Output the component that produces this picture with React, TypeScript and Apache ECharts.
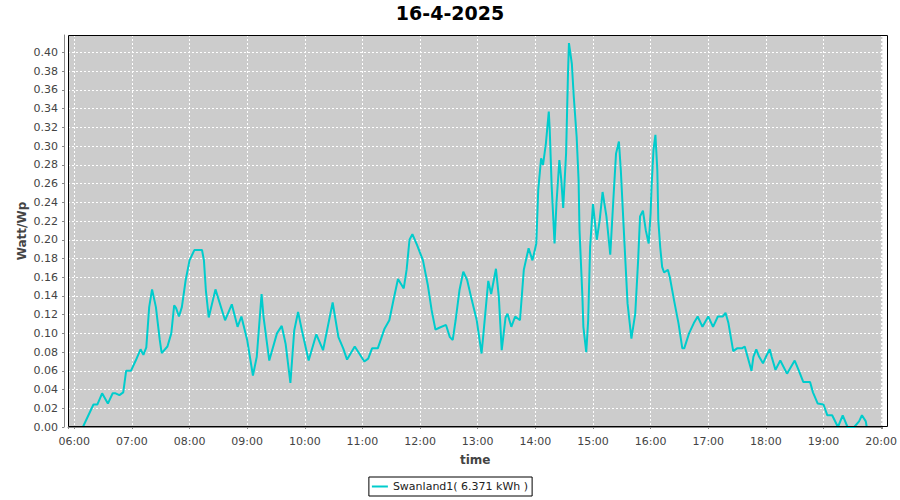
import React, { useEffect, useRef } from "react";
import * as echarts from "echarts";

const chartTitle = "16-4-2025";
const seriesName = "Swanland1( 6.371 kWh )";
const yAxisTitle = "Watt/Wp";
const xAxisTitle = "time";

const times = [
  "06:09", "06:20", "06:24", "06:29", "06:35", "06:40", "06:43", "06:47", "06:51", "06:54",
  "06:59", "07:04", "07:09", "07:12", "07:15", "07:18", "07:21", "07:25", "07:29", "07:31",
  "07:37", "07:41", "07:44", "07:46", "07:49", "07:52", "07:56", "08:00", "08:05", "08:13",
  "08:15", "08:17", "08:20", "08:27", "08:37", "08:44", "08:50", "08:54", "09:00", "09:06",
  "09:10", "09:15", "09:17", "09:23", "09:31", "09:36", "09:40", "09:45", "09:49", "09:53",
  "09:57", "10:04", "10:12", "10:19", "10:29", "10:35", "10:40", "10:44", "10:52", "11:02",
  "11:06", "11:10", "11:16", "11:23", "11:28", "11:32", "11:37", "11:43", "11:46", "11:49",
  "11:52", "11:57", "12:03", "12:08", "12:12", "12:16", "12:20", "12:27", "12:31", "12:34",
  "12:37", "12:41", "12:45", "12:49", "12:54", "12:59", "13:04", "13:06", "13:11", "13:14",
  "13:19", "13:22", "13:25", "13:29", "13:31", "13:35", "13:39", "13:44", "13:48", "13:53",
  "13:57", "14:01", "14:03", "14:06", "14:08", "14:11", "14:14", "14:15", "14:17", "14:20",
  "14:22", "14:25", "14:27", "14:29", "14:32", "14:34", "14:35", "14:38", "14:40", "14:43",
  "14:45", "14:46", "14:49", "14:50", "14:53", "14:55", "14:57", "15:00", "15:04", "15:07",
  "15:10", "15:14", "15:18", "15:21", "15:24", "15:27", "15:29", "15:33", "15:36", "15:40",
  "15:44", "15:47", "15:49", "15:52", "15:55", "15:58", "16:00", "16:01", "16:03", "16:05",
  "16:07", "16:08", "16:10", "16:12", "16:14", "16:18", "16:20", "16:25", "16:29", "16:33",
  "16:35", "16:40", "16:45", "16:49", "16:54", "17:00", "17:05", "17:10", "17:15", "17:18",
  "17:21", "17:24", "17:26", "17:30", "17:35", "17:38", "17:40", "17:45", "17:47", "17:50",
  "17:53", "17:57", "18:00", "18:04", "18:06", "18:10", "18:15", "18:22", "18:30", "18:34",
  "18:39", "18:46", "18:49", "18:54", "19:00", "19:04", "19:09", "19:15", "19:20", "19:25",
  "19:32", "19:37", "19:40", "19:44", "19:45",
];

const values = [
  0.000, 0.024, 0.024, 0.036, 0.025, 0.036, 0.036, 0.034, 0.037, 0.060,
  0.060, 0.071, 0.083, 0.077, 0.085, 0.128, 0.147, 0.128, 0.093, 0.079,
  0.086, 0.100, 0.130, 0.127, 0.118, 0.128, 0.157, 0.178, 0.189, 0.189,
  0.178, 0.146, 0.117, 0.147, 0.114, 0.131, 0.107, 0.118, 0.093, 0.055,
  0.075, 0.142, 0.118, 0.071, 0.100, 0.108, 0.089, 0.047, 0.103, 0.123,
  0.103, 0.071, 0.099, 0.082, 0.133, 0.096, 0.084, 0.072, 0.086, 0.070,
  0.073, 0.084, 0.084, 0.105, 0.114, 0.134, 0.158, 0.148, 0.168, 0.200,
  0.206, 0.194, 0.178, 0.152, 0.125, 0.104, 0.106, 0.109, 0.096, 0.093,
  0.114, 0.146, 0.166, 0.157, 0.135, 0.114, 0.0785, 0.100, 0.156, 0.142,
  0.169, 0.139, 0.082, 0.117, 0.121, 0.107, 0.118, 0.114, 0.168, 0.191,
  0.178, 0.196, 0.253, 0.287, 0.280, 0.303, 0.337, 0.317, 0.257, 0.196,
  0.239, 0.285, 0.264, 0.234, 0.292, 0.378, 0.410, 0.388, 0.353, 0.310,
  0.264, 0.210, 0.139, 0.107, 0.080, 0.114, 0.192, 0.238, 0.200, 0.221,
  0.251, 0.225, 0.184, 0.239, 0.292, 0.305, 0.274, 0.192, 0.132, 0.0945,
  0.121, 0.178, 0.225, 0.231, 0.210, 0.196, 0.228, 0.257, 0.296, 0.312,
  0.274, 0.221, 0.192, 0.171, 0.165, 0.168, 0.160, 0.132, 0.111, 0.084,
  0.084, 0.100, 0.111, 0.118, 0.107, 0.118, 0.107, 0.118, 0.118, 0.122,
  0.111, 0.093, 0.081, 0.084, 0.084, 0.086, 0.0785, 0.060, 0.075, 0.083,
  0.075, 0.068, 0.075, 0.083, 0.075, 0.061, 0.071, 0.057, 0.071, 0.061,
  0.048, 0.048, 0.037, 0.025, 0.024, 0.0125, 0.0125, 0.000, 0.0125, 0.000,
  0.000, 0.006, 0.0125, 0.006, 0.000,
];

const yTickStep = 0.02;
const yMax = 0.4187;
const xMinHours = 5.8914;
const xMaxHours = 20.022;

const FONT = "DejaVu Sans";
const GRID = { left: 68, right: 12, top: 35, bottom: 73 };

function toHours(t: string): number {
  const [h, m] = t.split(":").map(Number);
  return h + m / 60;
}

function hourLabel(v: number): string {
  const mins = Math.round(v * 60);
  if (Math.abs(v * 60 - mins) > 0.01 || mins % 60 !== 0) return "";
  const h = mins / 60;
  return (h < 10 ? "0" : "") + h + ":00";
}

export default function App() {
  const ref = useRef<HTMLDivElement>(null);

  useEffect(() => {
    if (!ref.current) return;
    const chart = echarts.init(ref.current, undefined, { renderer: "svg" });
    const data = times.map((t, i) => [toHours(t), values[i]]);
    chart.setOption({
      animation: false,
      backgroundColor: "#ffffff",
      textStyle: { fontFamily: FONT },
      title: {
        text: chartTitle,
        left: "center",
        top: 0,
        padding: [3, 5, 5, 5],
        textStyle: { fontFamily: FONT, fontSize: 19, fontWeight: "bold", color: "#000" },
      },
      legend: {
        data: [{ name: seriesName, icon: "rect" }],
        left: "center",
        top: 477,
        itemWidth: 16,
        itemHeight: 2,
        padding: [4, 4, 4, 3],
        borderColor: "#000",
        borderWidth: 1,
        borderRadius: 0,
        textStyle: { fontFamily: FONT, fontSize: 11, color: "#222" },
      },
      grid: {
        ...GRID,
        show: true,
        backgroundColor: "#cccccc",
        borderWidth: 0,
      },
      xAxis: {
        type: "value",
        min: xMinHours,
        max: xMaxHours,
        splitNumber: 14,
        offset: 4,
        name: xAxisTitle,
        nameLocation: "middle",
        nameGap: 23,
        nameTextStyle: { fontFamily: FONT, fontSize: 12, fontWeight: "bold", color: "#444" },
        axisLine: { show: true, lineStyle: { color: "#888", width: 1 } },
        axisTick: { show: true, length: 2, lineStyle: { color: "#888" } },
        axisLabel: {
          margin: 5,
          fontSize: 11,
          color: "#444",
          fontFamily: FONT,
          formatter: (v: number) => hourLabel(v),
        },
        splitLine: { show: true, lineStyle: { color: "#ffffff", type: [2, 2], width: 1 } },
      },
      yAxis: {
        type: "value",
        min: 0,
        max: yMax,
        interval: yTickStep,
        offset: 4,
        name: yAxisTitle,
        nameLocation: "middle",
        nameRotate: 90,
        nameGap: 36,
        nameMoveOverlap: false,
        nameTextStyle: { fontFamily: FONT, fontSize: 12, fontWeight: "bold", color: "#444" },
        axisLine: { show: true, lineStyle: { color: "#888", width: 1 } },
        axisTick: { show: true, length: 2, lineStyle: { color: "#888" } },
        axisLabel: {
          margin: 6,
          fontSize: 11,
          color: "#444",
          fontFamily: FONT,
          showMaxLabel: false,
          formatter: (v: number) => (v > 0.405 ? "" : v.toFixed(2)),
        },
        splitLine: { show: true, lineStyle: { color: "#ffffff", type: [2, 2], width: 1 } },
      },
      series: [
        {
          name: seriesName,
          type: "line",
          data,
          showSymbol: false,
          smooth: false,
          clip: true,
          lineStyle: { color: "#00cccc", width: 2 },
          itemStyle: { color: "#00cccc" },
        },
      ],
      graphic: [
        {
          type: "rect",
          z: 100,
          silent: true,
          shape: {
            x: GRID.left + 0.5,
            y: GRID.top + 0.5,
            width: 900 - GRID.left - GRID.right - 1,
            height: 500 - GRID.top - GRID.bottom - 1,
          },
          style: { fill: "none", stroke: "#000", lineWidth: 1 },
        },
      ],
    });
    return () => chart.dispose();
  }, []);

  return (
    <div
      ref={ref}
      style={{ position: "fixed", left: 0, top: 0, width: 900, height: 500 }}
    />
  );
}
